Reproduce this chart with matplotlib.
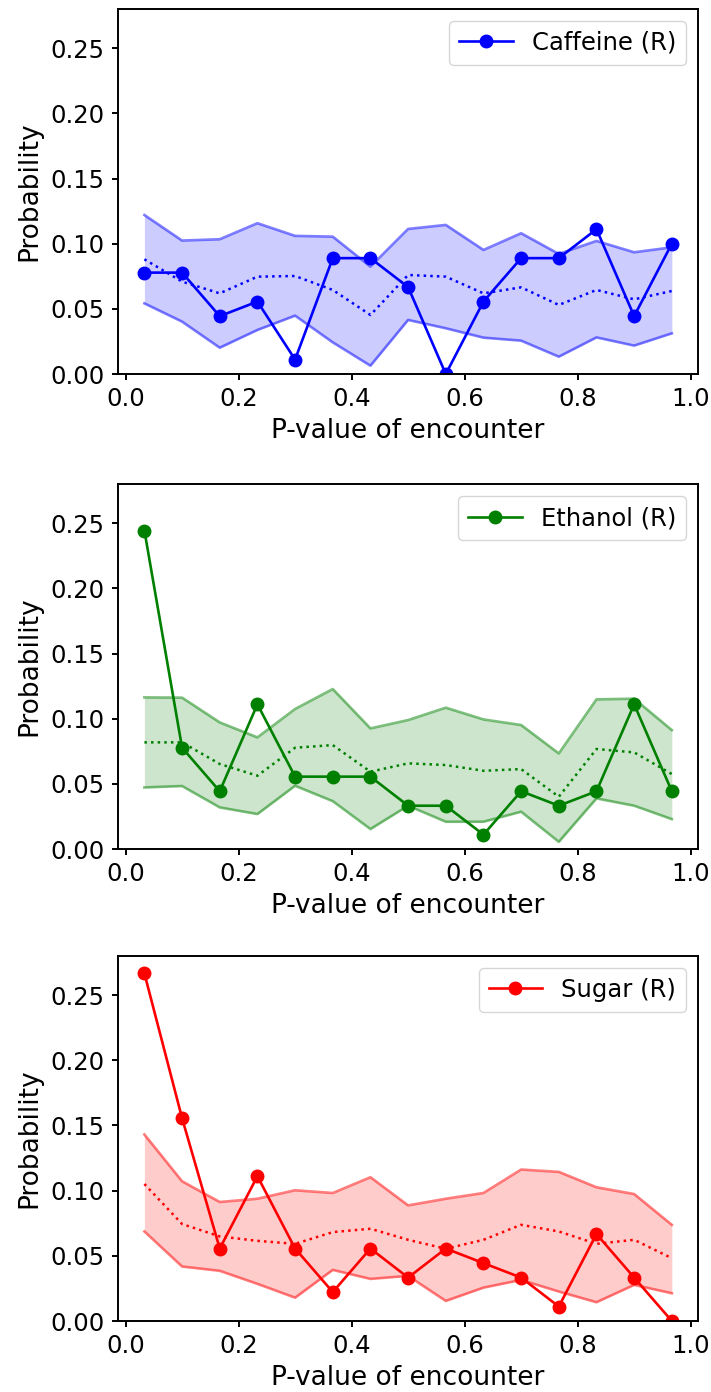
import numpy as np
import matplotlib
matplotlib.use("Agg")
import matplotlib.pyplot as plt

x = [(i + 0.5) / 15 for i in range(15)]

caffeine = [0.0778, 0.0778, 0.0444, 0.0556, 0.0111, 0.0889, 0.0889, 0.0667,
            0.0, 0.0556, 0.0889, 0.0889, 0.1111, 0.0444, 0.1]
caffeine_up = [0.122, 0.1024, 0.1034, 0.1157, 0.106, 0.1054, 0.0824, 0.1113,
               0.1144, 0.0952, 0.108, 0.0921, 0.1021, 0.0934, 0.0972]
caffeine_lo = [0.0542, 0.0402, 0.0202, 0.0338, 0.0448, 0.0243, 0.0064, 0.0415,
               0.0351, 0.0279, 0.0256, 0.0133, 0.0281, 0.0218, 0.0312]
caffeine_mean = [0.088, 0.0709, 0.0619, 0.0747, 0.0752, 0.0645, 0.0453, 0.076,
                 0.0747, 0.0619, 0.0665, 0.053, 0.0645, 0.0573, 0.0637]

ethanol = [0.2444, 0.0778, 0.0444, 0.1111, 0.0556, 0.0556, 0.0556, 0.0333,
           0.0333, 0.0111, 0.0444, 0.0333, 0.0444, 0.1111, 0.0444]
ethanol_up = [0.1164, 0.1162, 0.0972, 0.0857, 0.1075, 0.1228, 0.0926, 0.099,
              0.1085, 0.0995, 0.0952, 0.0734, 0.1149, 0.1154, 0.0913]
ethanol_lo = [0.0473, 0.0484, 0.032, 0.0269, 0.0486, 0.0368, 0.0154, 0.0333,
              0.021, 0.021, 0.0287, 0.0056, 0.0389, 0.0333, 0.023]
ethanol_mean = [0.0819, 0.0819, 0.0653, 0.0563, 0.0778, 0.0798, 0.0594, 0.0658,
                0.0645, 0.0601, 0.0614, 0.0402, 0.0768, 0.0742, 0.0576]

sugar = [0.2667, 0.1556, 0.0556, 0.1111, 0.0556, 0.0222, 0.0556, 0.0333,
         0.0556, 0.0444, 0.0333, 0.0111, 0.0667, 0.0333, 0.0]
sugar_up = [0.1431, 0.1072, 0.0913, 0.0938, 0.1003, 0.0982, 0.1103, 0.0887,
            0.0938, 0.0982, 0.1162, 0.1144, 0.1026, 0.0974, 0.0738]
sugar_lo = [0.0687, 0.0418, 0.0385, 0.0285, 0.0179, 0.0392, 0.0323, 0.0346,
            0.0154, 0.0256, 0.0315, 0.0226, 0.0144, 0.0277, 0.0213]
sugar_mean = [0.1051, 0.0744, 0.0649, 0.0615, 0.0592, 0.0682, 0.0708, 0.0623,
              0.0554, 0.0623, 0.0738, 0.0687, 0.0592, 0.0623, 0.0482]

labels = ["Caffeine (R)", "Ethanol (R)", "Sugar (R)"]
colors = ["blue", "green", "red"]
series = [
    (caffeine, caffeine_up, caffeine_lo, caffeine_mean),
    (ethanol, ethanol_up, ethanol_lo, ethanol_mean),
    (sugar, sugar_up, sugar_lo, sugar_mean),
]

plt.rcParams['font.size'] = 17.5
fig = plt.figure(figsize=(7.11, 13.92), dpi=100)
bottoms = [0.7313, 0.390, 0.051]
for (vals, up, lo, mean), lab, col, b in zip(series, labels, colors, bottoms):
    ax = fig.add_axes([0.166, b, 0.816, 0.2622])
    ax.fill_between(x, lo, up, color=col, alpha=0.2, linewidth=0)
    ax.plot(x, up, color=col, alpha=0.5, linewidth=1.9)
    ax.plot(x, lo, color=col, alpha=0.5, linewidth=1.9)
    ax.plot(x, mean, color=col, linestyle=':', linewidth=1.8)
    ax.plot(x, vals, color=col, marker='o', markersize=9, linewidth=1.9, label=lab)
    ax.set_ylim(0, 0.28)
    ax.set_xticks([0.0, 0.2, 0.4, 0.6, 0.8, 1.0])
    ax.set_yticks([0.0, 0.05, 0.10, 0.15, 0.20, 0.25])
    ax.set_ylabel("Probability", fontsize=19, labelpad=6)
    ax.set_xlabel("P-value of encounter", fontsize=19, labelpad=5)
    ax.legend(loc='upper right', fontsize=17.5, handlelength=2.2)
    for s in ax.spines.values():
        s.set_linewidth(1.4)
    ax.tick_params(width=1.4, length=4.5, pad=5)

fig.savefig("out.png", dpi=100)
